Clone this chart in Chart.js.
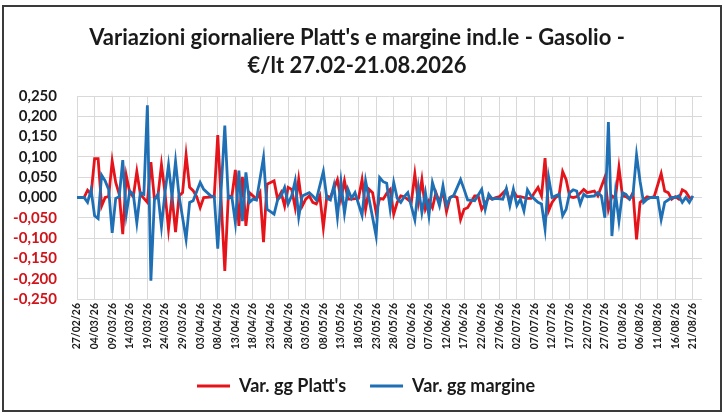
<!DOCTYPE html>
<html>
<head>
<meta charset="utf-8">
<script src="https://cdn.jsdelivr.net/npm/chart.js@4.4.1/dist/chart.umd.min.js"></script>
<style>
  html, body { margin: 0; padding: 0; background: #fff; }
  #wrap { position: relative; width: 725px; height: 416px; }
</style>
</head>
<body>
<div id="wrap"><canvas id="chart" width="725" height="416"></canvas></div>
<script>
// tick labels on the date axis, one every 5 days from 27/02/26
const tickLabels = [
  '27/02/26','04/03/26','09/03/26','14/03/26','19/03/26','24/03/26','29/03/26','03/04/26',
  '08/04/26','13/04/26','18/04/26','23/04/26','28/04/26','03/05/26','08/05/26','13/05/26',
  '18/05/26','23/05/26','28/05/26','02/06/26','07/06/26','12/06/26','17/06/26','22/06/26',
  '27/06/26','02/07/26','07/07/26','12/07/26','17/07/26','22/07/26','27/07/26','01/08/26',
  '06/08/26','11/08/26','16/08/26','21/08/26'
];

// daily values (index = days since 27/02/26), null = no point that day
const platts = [
  0, null, 0, 0.018, 0.008, 0.096, 0.096, -0.021, 0, 0.002,
  0.09, 0.037, 0.008, -0.09, 0.054, 0.012, 0.002, 0.064, 0.008, -0.002,
  -0.012, 0.087, -0.004, 0.004, 0.081, 0.012, -0.078, 0.004, -0.085, 0.004,
  0.012, 0.105, 0.025, 0.017, 0.002, -0.025, 0, null, null, 0.002,
  0.154, null, -0.181, 0.004, 0.002, 0.068, -0.07, 0.051, -0.07, 0.012,
  0.004, -0.004, 0.012, -0.11, 0.033, 0.037, 0.041, -0.004, 0.012, -0.021,
  0.025, 0.02, -0.025, 0.045, -0.021, -0.004, 0.004, -0.012, -0.016, 0.004,
  -0.074, 0.004, 0, null, 0.044, -0.004, 0.041, -0.004, -0.004, null,
  -0.002, 0.044, -0.029, 0.02, 0.012, -0.037, -0.002, -0.004, 0.01, 0.02,
  -0.041, -0.012, 0.004, 0.002, null, -0.012, 0.058, -0.012, 0.044, -0.029,
  -0.008, -0.025, 0.012, -0.012, 0.016, -0.035, 0, 0.004, 0, -0.054,
  -0.029, -0.025, null, 0.004, 0.004, -0.029, null, 0, -0.004, 0,
  0.002, null, 0.02, -0.012, 0.016, 0.002, 0.002, 0, -0.002, -0.002,
  0.012, 0.025, 0.004, 0.097, -0.033, -0.012, 0, 0.006, 0.064, 0.044,
  0.002, 0, 0.002, null, 0.02, 0.012, 0.014, 0.016, 0.004, null,
  0.05, -0.029, 0.004, -0.002, 0.074, 0.004, 0.002, -0.004, 0.012, -0.103,
  -0.012, null, 0.002, 0, 0.002, null, 0.059, 0.016, 0.012, -0.004,
  0.002, -0.004, 0.019, 0.014, 0, -0.002
];

const margine = [
  0, null, 0, -0.012, 0.019, -0.045, -0.052, 0.055, 0.041, 0.02,
  -0.087, -0.002, 0.002, 0.092, -0.041, 0.016, 0.008, -0.062, 0.012, 0.008,
  0.227, -0.205, -0.006, 0.008, -0.072, 0.012, 0.08, 0.002, 0.089, 0.004,
  null, -0.103, -0.012, -0.008, null, 0.037, 0.02, null, 0.004, 0.002,
  -0.126, null, 0.177, -0.002, 0.002, -0.062, 0.066, -0.058, 0.062, -0.012,
  -0.004, -0.006, null, 0.099, -0.029, -0.035, -0.041, -0.006, 0.004, 0.025,
  -0.016, 0.004, 0.041, -0.048, 0.004, null, 0.012, 0.004, -0.006, null,
  0.064, -0.002, -0.006, 0.029, -0.048, 0.039, -0.039, 0.02, -0.002, 0.012,
  -0.016, -0.044, 0.041, -0.004, null, -0.095, 0.049, 0.039, 0.035, -0.029,
  0.037, -0.002, -0.012, 0.002, 0.012, null, -0.055, 0.025, -0.037, 0.012,
  -0.045, 0.037, 0.008, -0.02, 0.029, -0.02, 0, 0.004, null, 0.044,
  0.02, -0.006, null, -0.008, null, 0.02, -0.029, 0.008, -0.004, -0.002,
  null, -0.004, 0.022, -0.02, 0.02, -0.02, -0.004, -0.033, 0.019, 0.004,
  -0.004, -0.012, -0.016, -0.077, 0.05, 0, 0.004, 0.008, -0.045, -0.029,
  0.012, 0.019, 0.016, -0.016, 0.008, 0.002, null, 0.004, 0.012, 0.004,
  -0.05, 0.186, -0.095, 0.012, -0.058, 0.012, 0.008, -0.004, 0.008, 0.105,
  0.04, -0.012, -0.004, 0, null, 0, -0.054, -0.012, null, 0,
  0, 0.004, -0.012, 0, -0.012, 0.004
];

const RED = '#e5141b';
const BLUE = '#1f6fb5';
const NEG = '#d0141a';
const FONT = 'Lato, "Open Sans", sans-serif';

const toPoints = arr => arr.map((v, i) => ({ x: i, y: v }));

// white page + dark frame round the whole chart; legend nudged right like the original
const frame = {
  id: 'frame',
  afterLayout(chart) {
    chart.legend.left += 9;
    chart.legend.right += 9;
  },
  beforeDraw(chart) {
    const ctx = chart.ctx;
    ctx.save();
    ctx.fillStyle = '#fff';
    ctx.fillRect(0, 0, chart.width, chart.height);
    ctx.restore();
  },
  afterDraw(chart) {
    const ctx = chart.ctx;
    ctx.save();
    ctx.strokeStyle = '#3a3a3a';
    ctx.lineWidth = 2;
    ctx.strokeRect(3, 6, 718, 405);
    ctx.restore();
  }
};

new Chart(document.getElementById('chart'), {
  type: 'line',
  data: {
    datasets: [
      {
        label: "Var. gg Platt's",
        data: toPoints(platts),
        borderColor: RED, backgroundColor: RED,
        borderWidth: 2.8, pointRadius: 0, tension: 0, order: 1
      },
      {
        label: 'Var. gg margine',
        data: toPoints(margine),
        borderColor: BLUE, backgroundColor: BLUE,
        borderWidth: 2.8, pointRadius: 0, tension: 0, order: 0
      }
    ]
  },
  options: {
    responsive: false,
    animation: false,
    spanGaps: true,
    layout: { padding: { left: 12, right: 23, top: 0, bottom: 11 } },
    plugins: {
      title: {
        display: true,
        text: ["Variazioni giornaliere Platt's e margine ind.le - Gasolio -", '€/lt 27.02-21.08.2026'],
        color: '#1a1a1a',
        font: { family: FONT, size: 22, weight: 'bold', lineHeight: 1.273 },
        padding: { top: 24, bottom: 16 }
      },
      legend: {
        position: 'bottom',
        labels: {
          color: '#1a1a1a',
          font: { family: FONT, size: 18, weight: 'bold' },
          boxWidth: 33, boxHeight: 3, padding: 24,
          sort: (a, b) => a.datasetIndex - b.datasetIndex,
          generateLabels: chart =>
            Chart.defaults.plugins.legend.labels.generateLabels(chart)
              .map(l => ({ ...l, lineWidth: 0 }))
        }
      },
      tooltip: { enabled: false }
    },
    scales: {
      x: {
        type: 'linear',
        min: 0, max: 177.6,
        afterFit: s => { s.height = 54; },
        grid: { color: '#d9d9d9', drawTicks: false },
        border: { display: false },
        ticks: {
          stepSize: 5, includeBounds: false, autoSkip: false,
          minRotation: 90, maxRotation: 90, padding: 4,
          color: '#1a1a1a',
          font: { family: FONT, size: 10.5, weight: 'bold' },
          callback: v => tickLabels[Math.round(v / 5)] || ''
        }
      },
      y: {
        min: -0.25, max: 0.25,
        afterFit: s => { s.width = 65; },
        grid: { color: '#d9d9d9', drawTicks: false },
        border: { display: false },
        ticks: {
          stepSize: 0.05, padding: 20, autoSkip: false,
          font: { family: FONT, size: 15, weight: 'bold' },
          color: c => (c.tick.value < -1e-9 ? NEG : '#1a1a1a'),
          callback: v => v.toFixed(3).replace('.', ',')
        }
      }
    }
  },
  plugins: [frame]
});
</script>
</body>
</html>
